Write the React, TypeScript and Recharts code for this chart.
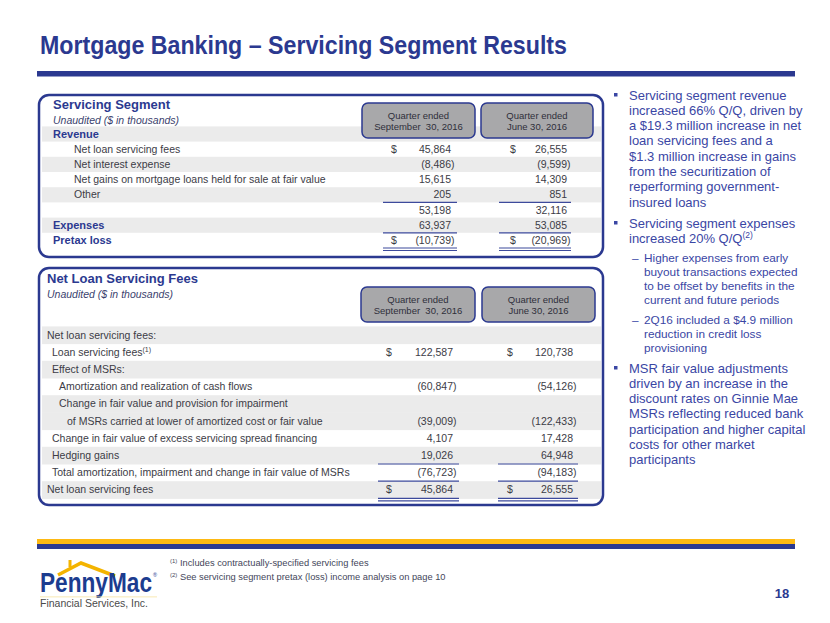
import { Surface, Layer, Rectangle, Text } from 'recharts';

const NAVY = '#2b3990';
const BLUE_TEXT = '#3a46a4';
const GREY_TEXT = '#3c3c46';
const BAND = '#ebebeb';
const FONT = "'Liberation Sans', Arial, sans-serif";
const NARROW = "'Liberation Sans Narrow', 'Liberation Sans', Arial, sans-serif";

const titleText = 'Mortgage Banking – Servicing Segment Results';
const periodHeaders = [
  ['Quarter ended', 'September  30, 2016'],
  ['Quarter ended', 'June 30, 2016'],
];

// top table: Servicing Segment
const segmentLabels = [
  'Revenue',
  'Net loan servicing fees',
  'Net interest expense',
  'Net gains on mortgage loans held for sale at fair value',
  'Other',
  '',
  'Expenses',
  'Pretax loss',
];
const segmentSep = [null, 45864, -8486, 15615, 205, 53198, 63937, -10739];
const segmentJun = [null, 26555, -9599, 14309, 851, 32116, 53085, -20969];

// bottom table: Net Loan Servicing Fees
const feeLabels = [
  'Net loan servicing fees:',
  'Loan servicing fees',
  'Effect of MSRs:',
  'Amortization and realization of cash flows',
  'Change in fair value and provision for impairment',
  'of MSRs carried at lower of amortized cost or fair value',
  'Change in fair value of excess servicing spread financing',
  'Hedging gains',
  'Total amortization, impairment and change in fair value of MSRs',
  'Net loan servicing fees',
];
const feeSep = [null, 122587, null, -60847, null, -39009, 4107, 19026, -76723, 45864];
const feeJun = [null, 120738, null, -54126, null, -122433, 17428, 64948, -94183, 26555];

const bulletGroups = [
  {
    level: 0,
    lines: [
      'Servicing segment revenue',
      'increased 66% Q/Q, driven by',
      'a $19.3 million increase in net',
      'loan servicing fees and a',
      '$1.3 million increase in gains',
      'from the securitization of',
      'reperforming government-',
      'insured loans',
    ],
  },
  { level: 0, lines: ['Servicing segment expenses', 'increased 20% Q/Q'], note: '(2)' },
  {
    level: 1,
    lines: [
      'Higher expenses from early',
      'buyout transactions expected',
      'to be offset by benefits in the',
      'current and future periods',
    ],
  },
  { level: 1, lines: ['2Q16 included a $4.9 million', 'reduction in credit loss', 'provisioning'] },
  {
    level: 0,
    lines: [
      'MSR fair value adjustments',
      'driven by an increase in the',
      'discount rates on Ginnie Mae',
      'MSRs reflecting reduced bank',
      'participation and higher capital',
      'costs for other market',
      'participants',
    ],
  },
];
const bulletTops = [95, 223, 258, 320, 368];

const footnotes = [
  ['(1)', ' Includes contractually-specified servicing fees'],
  ['(2)', ' See servicing segment pretax (loss) income analysis on page 10'],
];
const pageNumber = '18';

const fmt = (v: number) => Math.abs(v).toLocaleString('en-US');

function Amount({ x, y, v, dollarX }: { x: number; y: number; v: number | null; dollarX?: number }) {
  if (v === null) return null;
  return (
    <g fontFamily={FONT} fontSize={10.5} fill={GREY_TEXT}>
      {dollarX !== undefined && (
        <text x={dollarX} y={y} dy="0.35em">$</text>
      )}
      <text x={x} y={y} dy="0.35em" textAnchor="end">
        {v < 0 ? `(${fmt(v)}` : fmt(v)}
      </text>
      {v < 0 && (
        <text x={x} y={y} dy="0.35em">)</text>
      )}
    </g>
  );
}

function PeriodBox({ x, y, w, h, lines }: { x: number; y: number; w: number; h: number; lines: string[] }) {
  return (
    <Layer>
      <Rectangle x={x} y={y} width={w} height={h} radius={6} fill="#a8a8aa" stroke={NAVY} strokeWidth={1.5} />
      <Text x={x + w / 2} y={y + h / 2 - 5} textAnchor="middle" verticalAnchor="middle" fontSize={9.5} fontFamily={FONT} fill="#2f2f3a">
        {lines[0]}
      </Text>
      <text x={x + w / 2} y={y + h / 2 + 6} dy="0.35em" textAnchor="middle" fontSize={9.5} fontFamily={FONT} fill="#2f2f3a" style={{ whiteSpace: 'pre' }}>
        {lines[1]}
      </text>
    </Layer>
  );
}

function SegmentTable() {
  const y0 = 134;
  const rh = 15.2;
  const indent = [53, 74, 74, 74, 74, 53, 53, 53];
  const bold = [true, false, false, false, false, false, true, true];
  const col = [
    { d: 391, r: 451, a: 383, b: 457 },
    { d: 510, r: 567, a: 499, b: 571 },
  ];
  const vals = [segmentSep, segmentJun];
  return (
    <Layer>
      {segmentLabels.map((_, i) =>
        i % 2 === 0 ? (
          <rect key={i} x={42} y={y0 + i * rh - rh / 2} width={559} height={rh} fill={BAND} />
        ) : null
      )}
      <Rectangle x={39} y={95} width={564} height={162} radius={10} fill="none" stroke={NAVY} strokeWidth={2.5} />
      <text x={53} y={109} fontFamily={FONT} fontWeight="bold" fontSize={13} fill={NAVY}>
        Servicing Segment
      </text>
      <text x={53} y={120} dy="0.35em" fontFamily={FONT} fontStyle="italic" fontSize={10.5} fill="#3b3f6e">
        Unaudited ($ in thousands)
      </text>
      {periodHeaders.map((lines, j) => (
        <PeriodBox key={j} x={j === 0 ? 362 : 481} y={103} w={j === 0 ? 113 : 112} h={35} lines={lines} />
      ))}
      {segmentLabels.map((label, i) => (
        <text
          key={i}
          x={indent[i]}
          y={y0 + i * rh}
          dy="0.35em"
          fontFamily={FONT}
          fontSize={bold[i] ? 11 : 10.5}
          fontWeight={bold[i] ? 'bold' : 'normal'}
          fill={bold[i] ? NAVY : GREY_TEXT}
        >
          {label}
        </text>
      ))}
      {vals.map((arr, j) =>
        arr.map((v, i) => (
          <Amount key={`${j}-${i}`} x={col[j].r} y={y0 + i * rh} v={v} dollarX={i === 1 || i === 7 ? col[j].d : undefined} />
        ))
      )}
      {col.map((c, j) => (
        <g key={j} stroke="#3d4a9c" strokeWidth={1.2}>
          <line x1={c.a} x2={c.b} y1={y0 + 4.5 * rh} y2={y0 + 4.5 * rh} />
          <line x1={c.a} x2={c.b} y1={y0 + 6.5 * rh} y2={y0 + 6.5 * rh} />
          <line x1={c.a} x2={c.b} y1={y0 + 7.5 * rh} y2={y0 + 7.5 * rh} />
          <line x1={c.a} x2={c.b} y1={y0 + 7.5 * rh + 2.5} y2={y0 + 7.5 * rh + 2.5} />
        </g>
      ))}
    </Layer>
  );
}

function FeeTable() {
  const y0 = 335;
  const rh = 17.2;
  const indent = [47, 52, 52, 59, 59, 67, 52, 52, 52, 47];
  const gray = [0, 2, 4, 5, 7, 9];
  const col = [
    { d: 386, r: 453, a: 378, b: 459 },
    { d: 507, r: 573, a: 498, b: 578 },
  ];
  const vals = [feeSep, feeJun];
  return (
    <Layer>
      {gray.map((i) => (
        <rect key={i} x={42} y={y0 + i * rh - rh / 2} width={559} height={rh + 0.5} fill={BAND} />
      ))}
      <Rectangle x={39} y={268} width={564} height={237} radius={10} fill="none" stroke={NAVY} strokeWidth={2.5} />
      <text x={47} y={283} fontFamily={FONT} fontWeight="bold" fontSize={13} fill={NAVY}>
        Net Loan Servicing Fees
      </text>
      <text x={47} y={294} dy="0.35em" fontFamily={FONT} fontStyle="italic" fontSize={10.5} fill="#3b3f6e">
        Unaudited ($ in thousands)
      </text>
      {periodHeaders.map((lines, j) => (
        <PeriodBox key={j} x={j === 0 ? 361 : 482} y={287} w={j === 0 ? 114 : 113} h={35} lines={lines} />
      ))}
      {feeLabels.map((label, i) => (
        <text key={i} x={indent[i]} y={y0 + i * rh} dy="0.35em" fontFamily={FONT} fontSize={10.5} fill={GREY_TEXT}>
          {label}
          {i === 1 && (
            <tspan fontSize={7} dy={-4}>
              (1)
            </tspan>
          )}
        </text>
      ))}
      {vals.map((arr, j) =>
        arr.map((v, i) => (
          <Amount key={`${j}-${i}`} x={col[j].r} y={y0 + i * rh} v={v} dollarX={i === 1 || i === 9 ? col[j].d : undefined} />
        ))
      )}
      {col.map((c, j) => (
        <g key={j} stroke="#3d4a9c" strokeWidth={1.2}>
          <line x1={c.a} x2={c.b} y1={y0 + 7.5 * rh} y2={y0 + 7.5 * rh} />
          <line x1={c.a} x2={c.b} y1={y0 + 8.5 * rh} y2={y0 + 8.5 * rh} />
          <line x1={c.a} x2={c.b} y1={y0 + 9.5 * rh} y2={y0 + 9.5 * rh} />
          <line x1={c.a} x2={c.b} y1={y0 + 9.5 * rh + 2.5} y2={y0 + 9.5 * rh + 2.5} />
        </g>
      ))}
    </Layer>
  );
}

function Bullets() {
  return (
    <Layer>
      {bulletGroups.map((g, k) => {
        const top = bulletTops[k];
        const lh = g.level === 0 ? 15.3 : 14;
        const fs = g.level === 0 ? 13 : 11.8;
        const tx = g.level === 0 ? 629 : 644;
        return (
          <g key={k}>
            {g.level === 0 ? (
              <rect x={614} y={top - 2} width={3.5} height={3.5} fill={BLUE_TEXT} />
            ) : (
              <text x={632} y={top} dy="0.35em" fontFamily={FONT} fontSize={fs} fill={BLUE_TEXT}>
                –
              </text>
            )}
            {g.lines.map((ln, i) => (
              <text key={i} x={tx} y={top + i * lh} dy="0.35em" fontFamily={FONT} fontSize={fs} fill={BLUE_TEXT}>
                {ln}
                {g.note && i === g.lines.length - 1 && (
                  <tspan fontSize={8.5} dy={-5}>
                    {g.note}
                  </tspan>
                )}
              </text>
            ))}
          </g>
        );
      })}
    </Layer>
  );
}

function Footer() {
  return (
    <Layer>
      <rect x={37} y={539} width={758} height={5} fill="#fdb913" />
      <rect x={37} y={544} width={758} height={5} fill={NAVY} />
      {/* logo */}
      <path d="M58,575 L81,563 L115,576" fill="none" stroke="#f4b400" strokeWidth={3.5} strokeLinejoin="miter" />
      <rect x={68.5} y={560} width={3} height={7} fill="#f4b400" />
      <text x={40} y={592} fontFamily={NARROW} fontWeight="bold" fontSize={28} fill="#1c3c8f" textLength={112} lengthAdjust="spacingAndGlyphs">
        PennyMac
      </text>
      <text x={153} y={577} fontFamily={FONT} fontSize={5.5} fill="#1c3c8f">
        ®
      </text>
      <rect x={40} y={596.5} width={117} height={0.8} fill="#f7e3a0" />
      <text x={40} y={607} fontFamily={FONT} fontSize={10.5} fill="#4a4a4a" textLength={108} lengthAdjust="spacingAndGlyphs">
        Financial Services, Inc.
      </text>
      {footnotes.map(([mark, txt], i) => (
        <text key={i} x={170} y={566 + i * 14} dy="0.35em" fontFamily={NARROW} fontSize={9.3} fill="#44465a">
          <tspan fontSize={6} dy={-3}>
            {mark}
          </tspan>
          <tspan dy={3}>{txt}</tspan>
        </text>
      ))}
      <Text x={782} y={593} textAnchor="middle" verticalAnchor="middle" fontFamily={FONT} fontWeight="bold" fontSize={13} fill={NAVY}>
        {pageNumber}
      </Text>
    </Layer>
  );
}

export default function App() {
  return (
    <div style={{ position: 'absolute', left: 0, top: 0, width: 830, height: 623, background: '#fff' }}>
      <Surface width={830} height={623} viewBox={{ x: 0, y: 0, width: 830, height: 623 }}>
        <rect x={0} y={0} width={830} height={623} fill="#fff" />
        <text x={40} y={54} fontFamily={NARROW} fontWeight="bold" fontSize={25} fill={NAVY} textLength={527} lengthAdjust="spacingAndGlyphs">
          {titleText}
        </text>
        <rect x={37} y={71} width={758} height={5.5} fill={NAVY} />
        <SegmentTable />
        <FeeTable />
        <Bullets />
        <Footer />
      </Surface>
    </div>
  );
}
